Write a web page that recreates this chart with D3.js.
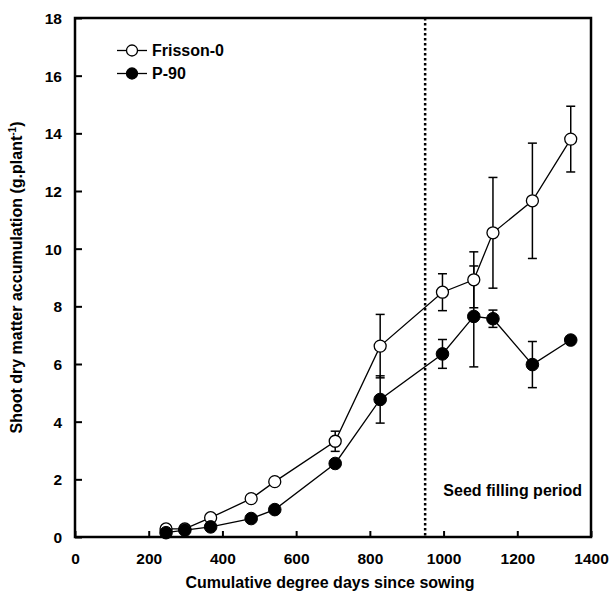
<!DOCTYPE html>
<html><head><meta charset="utf-8">
<script src="https://cdn.jsdelivr.net/npm/d3@7"></script>
<style>
body{margin:0;background:#fff;}
text{font-family:"Liberation Sans",Arial,sans-serif;font-weight:bold;fill:#000;}
</style></head>
<body><svg id="c" width="610" height="596"></svg>
<script>
const degreeDays = [247, 298, 368, 478, 542, 706, 828, 997, 1082, 1134, 1241, 1345];
const frisson = [0.28, 0.28, 0.67, 1.33, 1.92, 3.32, 6.62, 8.49, 8.92, 10.55, 11.66, 13.8];
const frissonErr = [0, 0, 0, 0, 0, 0.35, 1.1, 0.64, 0.97, 1.92, 2.0, 1.14];
const p90 = [0.15, 0.24, 0.35, 0.64, 0.95, 2.55, 4.77, 6.35, 7.65, 7.57, 5.98, 6.83];
const p90Err = [0, 0, 0, 0, 0, 0, 0.82, 0.5, 1.75, 0.3, 0.8, 0];
const xTicks = [0, 200, 400, 600, 800, 1000, 1200, 1400];
const yTicks = [0, 2, 4, 6, 8, 10, 12, 14, 16, 18];
const seedFillingStart = 950;

const svg = d3.select("#c");
const L = 75, R = 591, T = 18, B = 537;
const x = d3.scaleLinear().domain([0, 1400]).range([L, R]);
const y = d3.scaleLinear().domain([0, 18]).range([B, T]);

// axes with inward ticks
const xAxis = svg.append("g").attr("transform", `translate(0,${B})`)
  .call(d3.axisBottom(x).tickValues(xTicks).tickFormat(d3.format("d")).tickSizeInner(-6).tickSizeOuter(0).tickPadding(16));
const yAxis = svg.append("g").attr("transform", `translate(${L},0)`)
  .call(d3.axisLeft(y).tickValues(yTicks).tickFormat(d3.format("d")).tickSizeInner(-7).tickSizeOuter(0).tickPadding(13));
[xAxis, yAxis].forEach(a => {
  a.selectAll("path").remove();
  a.selectAll("line").attr("stroke", "#000").attr("stroke-width", 2);
  a.selectAll("text").style("font-size", "15.5px").style("font-family", '"Liberation Sans",Arial,sans-serif').style("font-weight", "bold");
});
yAxis.selectAll("text").attr("dy", "0.36em");

// frame
svg.append("rect").attr("x", L).attr("y", T).attr("width", R - L).attr("height", B - T)
  .attr("fill", "none").attr("stroke", "#000").attr("stroke-width", 2.5);

// dotted line
svg.append("line").attr("x1", x(seedFillingStart)).attr("x2", x(seedFillingStart))
  .attr("y1", T).attr("y2", B).attr("stroke", "#000").attr("stroke-width", 2.5)
  .attr("stroke-dasharray", "2.5,2.5");

svg.append("text").attr("x", 582).attr("y", 496).attr("text-anchor", "end")
  .style("font-size", "16px").text("Seed filling period");

const line = d3.line().x(d => x(d[0])).y(d => y(d[1]));
const fr = degreeDays.map((d, i) => [d, frisson[i], frissonErr[i]]);
const pp = degreeDays.map((d, i) => [d, p90[i], p90Err[i]]);

[fr, pp].forEach(s => svg.append("path").datum(s).attr("d", line)
  .attr("fill", "none").attr("stroke", "#000").attr("stroke-width", 1.3));

function errBars(s) {
  const g = svg.append("g").attr("stroke", "#000").attr("stroke-width", 1.5);
  s.filter(d => d[2] > 0).forEach(d => {
    const cx = x(d[0]), y1 = y(d[1] + d[2]), y2 = y(d[1] - d[2]);
    g.append("line").attr("x1", cx).attr("x2", cx).attr("y1", y1).attr("y2", y2);
    g.append("line").attr("x1", cx - 4.5).attr("x2", cx + 4.5).attr("y1", y1).attr("y2", y1);
    g.append("line").attr("x1", cx - 4.5).attr("x2", cx + 4.5).attr("y1", y2).attr("y2", y2);
  });
}
errBars(fr); errBars(pp);

svg.append("g").selectAll("circle").data(fr).join("circle")
  .attr("cx", d => x(d[0])).attr("cy", d => y(d[1])).attr("r", 6)
  .attr("fill", "#fff").attr("stroke", "#000").attr("stroke-width", 1.3);
svg.append("g").selectAll("circle").data(pp).join("circle")
  .attr("cx", d => x(d[0])).attr("cy", d => y(d[1])).attr("r", 6.3)
  .attr("fill", "#000").attr("stroke", "#000").attr("stroke-width", 1);

// legend
const leg = [["Frisson-0", "#fff", 50.5], ["P-90", "#000", 73.5]];
leg.forEach(([name, fill, ly]) => {
  svg.append("line").attr("x1", 117).attr("x2", 147).attr("y1", ly).attr("y2", ly)
    .attr("stroke", "#000").attr("stroke-width", 1.3);
  svg.append("circle").attr("cx", 132).attr("cy", ly).attr("r", 5.5)
    .attr("fill", fill).attr("stroke", "#000").attr("stroke-width", 1.3);
  svg.append("text").attr("x", 152).attr("y", ly + 5.5).style("font-size", "16px").text(name);
});

// axis titles
svg.append("text").attr("x", (L + R) / 2 - 3).attr("y", 588).attr("text-anchor", "middle")
  .style("font-size", "16px").text("Cumulative degree days since sowing");
const yt = svg.append("text").attr("transform", `translate(22,${(T + B) / 2}) rotate(-90)`)
  .attr("text-anchor", "middle").style("font-size", "16px");
yt.append("tspan").text("Shoot dry matter accumulation (g.plant");
yt.append("tspan").attr("dy", "-6").style("font-size", "10px").text("-1");
yt.append("tspan").attr("dy", "6").text(")");
</script></body></html>
